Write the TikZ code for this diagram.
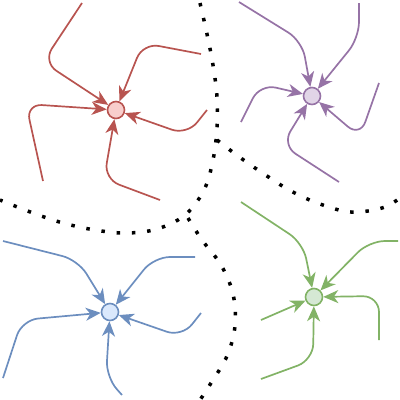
\documentclass[tikz,border=0pt]{standalone}
\usetikzlibrary{arrows.meta}
\definecolor{rS}{HTML}{B85450}\definecolor{rF}{HTML}{F8CECC}
\definecolor{pS}{HTML}{9673A6}\definecolor{pF}{HTML}{E1D5E7}
\definecolor{bS}{HTML}{6C8EBF}\definecolor{bF}{HTML}{DAE8FC}
\definecolor{gS}{HTML}{82B366}\definecolor{gF}{HTML}{D5E8D4}
\tikzset{
  hub/.style={circle,minimum size=17pt,inner sep=0pt,line width=1.6pt},
  flow/.style={line width=1.7pt,rounded corners=16pt,-{Stealth[length=15pt,width=13pt,inset=4.5pt]}},
  border/.style={line width=3.5pt,dash pattern=on 3.5pt off 11.8pt,black},
}
\begin{document}
\begin{tikzpicture}[x=1pt,y=-1pt]
\useasboundingbox (0,0) rectangle (400,400);
% dotted borders
\draw[border] plot[smooth,tension=0.6] coordinates {(200,3) (207,34) (213,65) (217,97) (217,128) (213,160) (204,190) (185,215) (157,229) (126,233) (95,230) (63,223) (33,213) (0,200)};
\draw[border] plot[smooth,tension=0.6] coordinates {(217,140) (238,156) (264,174) (291,191) (320,204) (351,212) (382,208) (400,198)};
\draw[border] plot[smooth,tension=0.6] coordinates {(188,218) (202,240) (221,265) (233,294) (235,326) (227,356) (211,383) (200,400)};
% hubs
\node[hub,draw=rS,fill=rF] (r) at (116,110) {};
\node[hub,draw=pS,fill=pF] (p) at (312,96) {};
\node[hub,draw=bS,fill=bF] (b) at (110,312) {};
\node[hub,draw=gS,fill=gF] (g) at (314,297) {};
% red
\draw[flow,rS] (82,3) -- (43,62) -- (r);
\draw[flow,rS] (201,54) -- (143,43) -- (r);
\draw[flow,rS] (207,110) -- (187,135) -- (r);
\draw[flow,rS] (160,200) -- (104,179) -- (r);
\draw[flow,rS] (43,181) -- (26,104) -- (r);
% purple
\draw[flow,pS] (239,2) -- (302,41) -- (p);
\draw[flow,pS] (359,3) -- (359,38) -- (p);
\draw[flow,pS] (379,83) -- (360,137) -- (p);
\draw[flow,pS] (339,182) -- (282,145) -- (p);
\draw[flow,pS] (241,122) -- (260,84) -- (p);
% blue
\draw[flow,bS] (3,241) -- (78,260) -- (b);
\draw[flow,bS] (195,257) -- (154,257) -- (b);
\draw[flow,bS] (201,313) -- (182,337) -- (b);
\draw[flow,bS] (122,395) -- (106,377) -- (b);
\draw[flow,bS] (3,378) -- (22,320) -- (b);
% green
\draw[flow,gS] (241,202) -- (303,243) -- (g);
\draw[flow,gS] (398,241) -- (369,241) -- (g);
\draw[flow,gS] (379,340) -- (379,296) -- (g);
\draw[flow,gS] (261,379) -- (313,360) -- (g);
\draw[flow,gS] (261,320) -- (g);
\end{tikzpicture}
\end{document}
